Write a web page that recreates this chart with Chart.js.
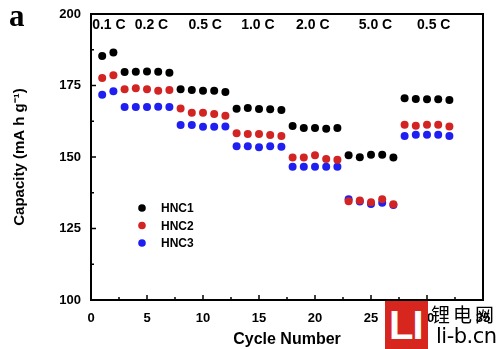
<!DOCTYPE html>
<html>
<head>
<meta charset="utf-8">
<script src="https://cdn.jsdelivr.net/npm/chart.js@4.4.1/dist/chart.umd.min.js"></script>
<style>
  body { margin: 0; background: #fff; }
  #wrap { position: relative; width: 500px; height: 349px; overflow: hidden; }
  #panel { position: absolute; left: 9px; top: -2px; font: bold 31px "Liberation Serif", serif; color: #000; }
  #wm-box { position: absolute; left: 385px; top: 301px; width: 43px; height: 48px; background: #d7261e; overflow: hidden; }
  #wm-box span { position: absolute; left: 4px; top: 2px; font: bold 40px "Liberation Sans", sans-serif; color: #fff; line-height: 44px; letter-spacing: -1px; }
  #wm-cn { position: absolute; left: 431px; top: 300px; font: 19px "Noto Sans CJK SC", sans-serif; color: #000; letter-spacing: 3px; white-space: nowrap; }
  #wm-url { position: absolute; left: 436px; top: 324px; font: 21px "DejaVu Sans", sans-serif; color: #000; line-height: 24px; white-space: nowrap; letter-spacing: -0.5px; }
</style>
</head>
<body>
<div id="wrap">
  <canvas id="chart" width="500" height="349"></canvas>
  <div id="panel">a</div>
  <div id="wm-box"><span>LI</span></div>
  <div id="wm-cn">锂电网</div>
  <div id="wm-url">li-b.cn</div>
</div>
<script>
// cycle numbers
const cycles = [1, 2, 3, 4, 5, 6, 7, 8, 9, 10, 11, 12, 13, 14, 15, 16,
  17, 18, 19, 20, 21, 22, 23, 24, 25, 26, 27, 28, 29, 30, 31, 32];

// capacities (mA h g-1)
const hnc1 = [185.3, 186.5, 179.7, 179.8, 179.9, 179.8, 179.5,
  173.7, 173.4, 173.2, 173.2, 172.7,
  166.9, 167.1, 166.8, 166.7, 166.4,
  160.8, 160.1, 160.1, 159.9, 160.1,
  150.6, 149.9, 150.8, 150.8, 149.8,
  170.5, 170.3, 170.2, 170.2, 169.9];
const hnc2 = [177.6, 178.6, 173.7, 174.0, 173.7, 173.2, 173.4,
  167.0, 165.5, 165.5, 165.0, 164.4,
  158.3, 158.0, 158.0, 157.7, 157.3,
  149.8, 149.8, 150.6, 149.3, 149.0,
  134.5, 134.8, 134.2, 135.2, 133.5,
  161.3, 160.9, 161.3, 161.3, 160.7];
const hnc3 = [171.8, 173.0, 167.5, 167.5, 167.5, 167.6, 167.5,
  161.2, 161.2, 160.6, 160.6, 160.7,
  153.8, 153.8, 153.4, 153.8, 153.6,
  146.6, 146.6, 146.6, 146.6, 146.6,
  135.2, 134.4, 133.6, 134.0, 133.2,
  157.3, 157.8, 157.8, 157.8, 157.3];

// C-rate labels above each group, placed at a cycle number
const rateLabels = ['0.1 C', '0.2 C', '0.5 C', '1.0 C', '2.0 C', '5.0 C', '0.5 C'];
const rateAt = [1.6, 5.4, 10.2, 14.9, 19.8, 25.4, 30.6];

const seriesNames = ['HNC1', 'HNC2', 'HNC3'];
const seriesColors = ['#000000', '#d32424', '#1f1ff2'];

function toPoints(values) {
  return cycles.map((c, i) => ({ x: c, y: values[i] }));
}

const boldFont = (size) => ({ family: '"Liberation Sans", Arial, sans-serif', size: size, weight: 'bold' });

// frame, inside ticks, rate labels and legend
const decorations = {
  id: 'decorations',
  afterDraw(chart) {
    const ctx = chart.ctx;
    const area = chart.chartArea;
    const xs = chart.scales.x;
    const ys = chart.scales.y;
    ctx.save();
    ctx.strokeStyle = '#000';
    ctx.lineWidth = 2;
    ctx.strokeRect(area.left, area.top, area.right - area.left, area.bottom - area.top);

    ctx.lineWidth = 1.5;
    for (let v = 0; v <= 35; v += 2.5) {
      const px = xs.getPixelForValue(v);
      const len = v % 5 === 0 ? 5 : 3;
      ctx.beginPath();
      ctx.moveTo(px, area.bottom);
      ctx.lineTo(px, area.bottom - len);
      ctx.stroke();
    }
    for (let v = 100; v <= 200; v += 12.5) {
      const py = ys.getPixelForValue(v);
      const len = v % 25 === 0 ? 5 : 3;
      ctx.beginPath();
      ctx.moveTo(area.left, py);
      ctx.lineTo(area.left + len, py);
      ctx.stroke();
    }

    ctx.fillStyle = '#000';
    ctx.font = 'bold 14px "Liberation Sans", Arial, sans-serif';
    ctx.textAlign = 'center';
    ctx.textBaseline = 'middle';
    rateLabels.forEach((t, i) => {
      ctx.fillText(t, xs.getPixelForValue(rateAt[i]), area.top + 11);
    });

    ctx.textAlign = 'left';
    ctx.font = 'bold 12px "Liberation Sans", Arial, sans-serif';
    seriesNames.forEach((name, i) => {
      const y = area.top + 194 + i * 17.5;
      ctx.fillStyle = seriesColors[i];
      ctx.beginPath();
      ctx.arc(area.left + 51, y, 3.8, 0, Math.PI * 2);
      ctx.fill();
      ctx.fillStyle = '#000';
      ctx.fillText(name, area.left + 70, y + 1);
    });
    ctx.restore();
  }
};

new Chart(document.getElementById('chart'), {
  type: 'scatter',
  data: {
    datasets: [hnc1, hnc2, hnc3].map((vals, i) => ({
      label: seriesNames[i],
      data: toPoints(vals),
      backgroundColor: seriesColors[i],
      borderWidth: 0,
      pointRadius: 4
    }))
  },
  options: {
    responsive: false,
    animation: false,
    layout: { padding: { top: 14, right: 17, left: 0, bottom: 0 } },
    plugins: { legend: { display: false }, tooltip: { enabled: false } },
    scales: {
      x: {
        type: 'linear',
        min: 0,
        max: 35,
        grid: { display: false },
        border: { display: false },
        ticks: { stepSize: 5, color: '#000', font: boldFont(13), padding: 3, maxRotation: 0 },
        title: { display: true, text: 'Cycle Number', color: '#000', font: boldFont(16), padding: { top: 0, bottom: 0 } },
        afterFit(scale) { scale.height = 49; }
      },
      y: {
        min: 100,
        max: 200,
        grid: { display: false },
        border: { display: false },
        ticks: { stepSize: 25, color: '#000', font: boldFont(13), padding: 2 },
        title: { display: true, text: 'Capacity (mA h g\u207B\u00B9)', color: '#000', font: boldFont(15), padding: { top: 11, bottom: 0 } },
        afterFit(scale) { scale.width = 91; }
      }
    }
  },
  plugins: [decorations]
});
</script>
</body>
</html>
